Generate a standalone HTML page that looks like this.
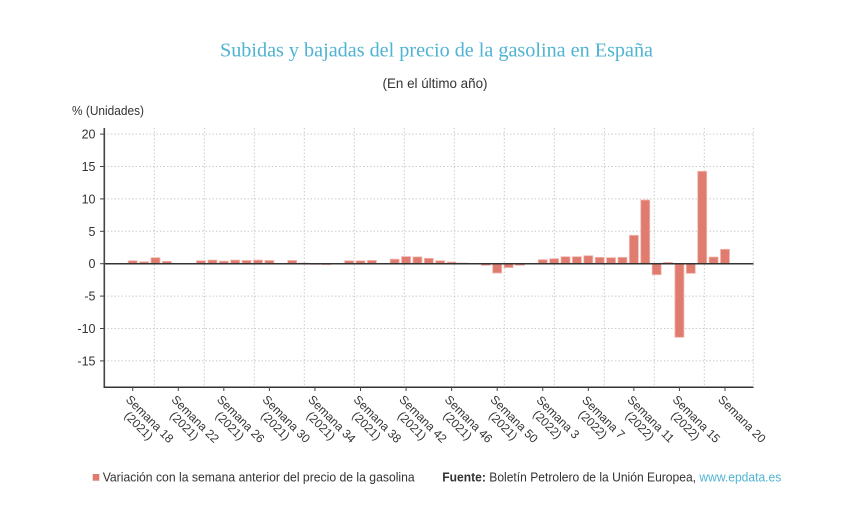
<!DOCTYPE html>
<html><head><meta charset="utf-8"><style>
html,body{margin:0;padding:0;background:#fff;}
svg{display:block;font-family:"Liberation Sans",sans-serif;}
</style></head><body>
<svg width="844" height="509" viewBox="0 0 844 509" xmlns="http://www.w3.org/2000/svg">
<rect width="844" height="509" fill="#fff"/>
<text x="436.5" y="56.5" text-anchor="middle" font-family="'Liberation Serif',serif" font-size="20" fill="#4fb3d2" textLength="433" lengthAdjust="spacingAndGlyphs">Subidas y bajadas del precio de la gasolina en España</text>
<text x="435" y="88" text-anchor="middle" font-size="14" fill="#333" textLength="105" lengthAdjust="spacingAndGlyphs">(En el último año)</text>
<text x="72" y="115" font-size="13" fill="#333" textLength="72" lengthAdjust="spacingAndGlyphs">% (Unidades)</text>
<g stroke="#cccccc" stroke-width="1" stroke-dasharray="1.5,2" fill="none">
<line x1="104" y1="134.1" x2="753.5" y2="134.1"/>
<line x1="104" y1="166.5" x2="753.5" y2="166.5"/>
<line x1="104" y1="198.9" x2="753.5" y2="198.9"/>
<line x1="104" y1="231.3" x2="753.5" y2="231.3"/>
<line x1="104" y1="296.1" x2="753.5" y2="296.1"/>
<line x1="104" y1="328.5" x2="753.5" y2="328.5"/>
<line x1="104" y1="360.9" x2="753.5" y2="360.9"/>
<line x1="154.3" y1="128" x2="154.3" y2="387"/>
<line x1="204.3" y1="128" x2="204.3" y2="387"/>
<line x1="254.3" y1="128" x2="254.3" y2="387"/>
<line x1="304.3" y1="128" x2="304.3" y2="387"/>
<line x1="354.3" y1="128" x2="354.3" y2="387"/>
<line x1="404.3" y1="128" x2="404.3" y2="387"/>
<line x1="454.3" y1="128" x2="454.3" y2="387"/>
<line x1="504.3" y1="128" x2="504.3" y2="387"/>
<line x1="554.3" y1="128" x2="554.3" y2="387"/>
<line x1="604.3" y1="128" x2="604.3" y2="387"/>
<line x1="654.3" y1="128" x2="654.3" y2="387"/>
<line x1="704.3" y1="128" x2="704.3" y2="387"/>
<line x1="753.3" y1="128" x2="753.3" y2="387"/>
</g>
<g fill="#e07c6f" stroke="#f3b7af" stroke-width="0.8">
<rect x="128.2" y="260.72" width="9" height="2.98"/>
<rect x="139.59" y="261.76" width="9" height="1.94"/>
<rect x="150.98" y="257.67" width="9" height="6.03"/>
<rect x="162.37" y="261.3" width="9" height="2.4"/>
<rect x="185.15" y="263.4" width="9" height="0.3"/>
<rect x="196.54" y="260.72" width="9" height="2.98"/>
<rect x="207.93" y="260.07" width="9" height="3.63"/>
<rect x="219.32" y="261.11" width="9" height="2.59"/>
<rect x="230.71" y="260.07" width="9" height="3.63"/>
<rect x="242.1" y="260.46" width="9" height="3.24"/>
<rect x="253.49" y="260.07" width="9" height="3.63"/>
<rect x="264.88" y="260.46" width="9" height="3.24"/>
<rect x="287.66" y="260.46" width="9" height="3.24"/>
<rect x="299.05" y="263.05" width="9" height="0.65"/>
<rect x="310.44" y="263.7" width="9" height="0.65"/>
<rect x="321.83" y="263.7" width="9" height="0.97"/>
<rect x="333.22" y="263.7" width="9" height="0.3"/>
<rect x="344.61" y="260.78" width="9" height="2.92"/>
<rect x="356" y="260.78" width="9" height="2.92"/>
<rect x="367.39" y="260.46" width="9" height="3.24"/>
<rect x="378.78" y="263.38" width="9" height="0.32"/>
<rect x="390.17" y="259.16" width="9" height="4.54"/>
<rect x="401.56" y="256.57" width="9" height="7.13"/>
<rect x="412.95" y="256.9" width="9" height="6.8"/>
<rect x="424.34" y="258.32" width="9" height="5.38"/>
<rect x="435.73" y="260.72" width="9" height="2.98"/>
<rect x="447.12" y="262.02" width="9" height="1.68"/>
<rect x="458.51" y="263.05" width="9" height="0.65"/>
<rect x="469.9" y="263.38" width="9" height="0.32"/>
<rect x="481.29" y="263.7" width="9" height="1.62"/>
<rect x="492.68" y="263.7" width="9" height="9.33"/>
<rect x="504.07" y="263.7" width="9" height="3.89"/>
<rect x="515.46" y="263.7" width="9" height="1.62"/>
<rect x="526.85" y="263.38" width="9" height="0.32"/>
<rect x="538.24" y="259.68" width="9" height="4.02"/>
<rect x="549.63" y="258.71" width="9" height="4.99"/>
<rect x="561.02" y="256.7" width="9" height="7"/>
<rect x="572.41" y="256.7" width="9" height="7"/>
<rect x="583.8" y="255.73" width="9" height="7.97"/>
<rect x="595.19" y="257.35" width="9" height="6.35"/>
<rect x="606.58" y="257.67" width="9" height="6.03"/>
<rect x="617.97" y="257.35" width="9" height="6.35"/>
<rect x="629.36" y="235.32" width="9" height="28.38"/>
<rect x="640.75" y="200" width="9" height="63.7"/>
<rect x="652.14" y="263.7" width="9" height="11.02"/>
<rect x="663.53" y="262.4" width="9" height="1.3"/>
<rect x="674.92" y="263.7" width="9" height="73.61"/>
<rect x="686.31" y="263.7" width="9" height="9.66"/>
<rect x="697.7" y="171.3" width="9" height="92.4"/>
<rect x="709.09" y="257.03" width="9" height="6.67"/>
<rect x="720.48" y="249.31" width="9" height="14.39"/>
</g>
<line x1="104" y1="263.7" x2="753.5" y2="263.7" stroke="#333" stroke-width="1.5"/>
<line x1="104.3" y1="128" x2="104.3" y2="387.5" stroke="#444" stroke-width="1.6"/>
<line x1="103.5" y1="387.3" x2="753.5" y2="387.3" stroke="#333" stroke-width="1.5"/>
<g stroke="#444" stroke-width="1">
<line x1="100" y1="134.1" x2="104" y2="134.1"/>
<line x1="100" y1="166.5" x2="104" y2="166.5"/>
<line x1="100" y1="198.9" x2="104" y2="198.9"/>
<line x1="100" y1="231.3" x2="104" y2="231.3"/>
<line x1="100" y1="263.7" x2="104" y2="263.7"/>
<line x1="100" y1="296.1" x2="104" y2="296.1"/>
<line x1="100" y1="328.5" x2="104" y2="328.5"/>
<line x1="100" y1="360.9" x2="104" y2="360.9"/>
<line x1="132.7" y1="387" x2="132.7" y2="391"/>
<line x1="178.26" y1="387" x2="178.26" y2="391"/>
<line x1="223.82" y1="387" x2="223.82" y2="391"/>
<line x1="269.38" y1="387" x2="269.38" y2="391"/>
<line x1="314.94" y1="387" x2="314.94" y2="391"/>
<line x1="360.5" y1="387" x2="360.5" y2="391"/>
<line x1="406.06" y1="387" x2="406.06" y2="391"/>
<line x1="451.62" y1="387" x2="451.62" y2="391"/>
<line x1="497.18" y1="387" x2="497.18" y2="391"/>
<line x1="542.74" y1="387" x2="542.74" y2="391"/>
<line x1="588.3" y1="387" x2="588.3" y2="391"/>
<line x1="633.86" y1="387" x2="633.86" y2="391"/>
<line x1="679.42" y1="387" x2="679.42" y2="391"/>
<line x1="724.98" y1="387" x2="724.98" y2="391"/>
</g>
<g font-size="12.5" fill="#333" text-anchor="end">
<text x="95.5" y="138.6">20</text>
<text x="95.5" y="171">15</text>
<text x="95.5" y="203.4">10</text>
<text x="95.5" y="235.8">5</text>
<text x="95.5" y="268.2">0</text>
<text x="95.5" y="300.6">-5</text>
<text x="95.5" y="333">-10</text>
<text x="95.5" y="365.4">-15</text>
</g>
<g font-size="12" fill="#333" text-anchor="middle">
<text transform="translate(132.7,387.3) rotate(45)"><tspan x="34.5" y="14.5">Semana 18</tspan><tspan x="31.5" y="27">(2021)</tspan></text>
<text transform="translate(178.26,387.3) rotate(45)"><tspan x="34.5" y="14.5">Semana 22</tspan><tspan x="31.5" y="27">(2021)</tspan></text>
<text transform="translate(223.82,387.3) rotate(45)"><tspan x="34.5" y="14.5">Semana 26</tspan><tspan x="31.5" y="27">(2021)</tspan></text>
<text transform="translate(269.38,387.3) rotate(45)"><tspan x="34.5" y="14.5">Semana 30</tspan><tspan x="31.5" y="27">(2021)</tspan></text>
<text transform="translate(314.94,387.3) rotate(45)"><tspan x="34.5" y="14.5">Semana 34</tspan><tspan x="31.5" y="27">(2021)</tspan></text>
<text transform="translate(360.5,387.3) rotate(45)"><tspan x="34.5" y="14.5">Semana 38</tspan><tspan x="31.5" y="27">(2021)</tspan></text>
<text transform="translate(406.06,387.3) rotate(45)"><tspan x="34.5" y="14.5">Semana 42</tspan><tspan x="31.5" y="27">(2021)</tspan></text>
<text transform="translate(451.62,387.3) rotate(45)"><tspan x="34.5" y="14.5">Semana 46</tspan><tspan x="31.5" y="27">(2021)</tspan></text>
<text transform="translate(497.18,387.3) rotate(45)"><tspan x="34.5" y="14.5">Semana 50</tspan><tspan x="31.5" y="27">(2021)</tspan></text>
<text transform="translate(542.74,387.3) rotate(45)"><tspan x="32" y="14.5">Semana 3</tspan><tspan x="29.5" y="27">(2022)</tspan></text>
<text transform="translate(588.3,387.3) rotate(45)"><tspan x="32" y="14.5">Semana 7</tspan><tspan x="29.5" y="27">(2022)</tspan></text>
<text transform="translate(633.86,387.3) rotate(45)"><tspan x="34.5" y="14.5">Semana 11</tspan><tspan x="31.5" y="27">(2022)</tspan></text>
<text transform="translate(679.42,387.3) rotate(45)"><tspan x="34.5" y="14.5">Semana 15</tspan><tspan x="31.5" y="27">(2022)</tspan></text>
<text transform="translate(724.98,387.3) rotate(45)"><tspan x="34.5" y="14.5">Semana 20</tspan></text>
</g>
<rect x="92.7" y="474" width="6.6" height="6.7" fill="#e07c6f"/>
<text x="102.7" y="481.5" font-size="13" fill="#333" textLength="312" lengthAdjust="spacingAndGlyphs">Variación con la semana anterior del precio de la gasolina</text>
<text x="442.3" y="481.5" font-size="13" fill="#333" textLength="339" lengthAdjust="spacingAndGlyphs"><tspan font-weight="bold">Fuente:</tspan> Boletín Petrolero de la Unión Europea, <tspan fill="#4fb3d2">www.epdata.es</tspan></text>
</svg>
</body></html>
